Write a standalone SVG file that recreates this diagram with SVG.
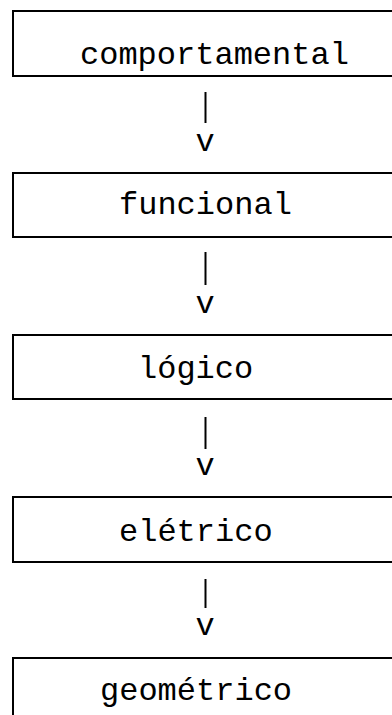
<svg xmlns="http://www.w3.org/2000/svg" width="392" height="715" viewBox="0 0 392 715">
<style>
.box{fill:#fff;stroke:#000;stroke-width:2}
.t{font-family:"Liberation Mono","Courier New",monospace;font-size:32px;fill:#000}
.c{stroke:#000;stroke-width:2}
</style>
<rect width="392" height="715" fill="#fff"/>
<g id="n1"><rect class="box" x="13" y="11" width="400" height="65"/><text class="t" x="80" y="64">comportamental</text></g>
<g id="n2"><rect class="box" x="13" y="173" width="400" height="64"/><text class="t" x="119" y="214">funcional</text></g>
<g id="n3"><rect class="box" x="13" y="335" width="400" height="64"/><text class="t" x="138" y="378">lógico</text></g>
<g id="n4"><rect class="box" x="13" y="497" width="400" height="65"/><text class="t" x="119" y="541">elétrico</text></g>
<g id="n5"><rect class="box" x="13" y="658" width="400" height="80"/><text class="t" x="100" y="700">geométrico</text></g>
<g id="connectors">
<line class="c" x1="205.5" y1="92" x2="205.5" y2="123"/><text class="t" x="195.5" y="151">v</text>
<line class="c" x1="205.5" y1="252" x2="205.5" y2="285"/><text class="t" x="195.5" y="313">v</text>
<line class="c" x1="205.5" y1="417" x2="205.5" y2="449"/><text class="t" x="195.5" y="475">v</text>
<line class="c" x1="205.5" y1="579" x2="205.5" y2="608"/><text class="t" x="195.5" y="635">v</text>
</g>
</svg>
